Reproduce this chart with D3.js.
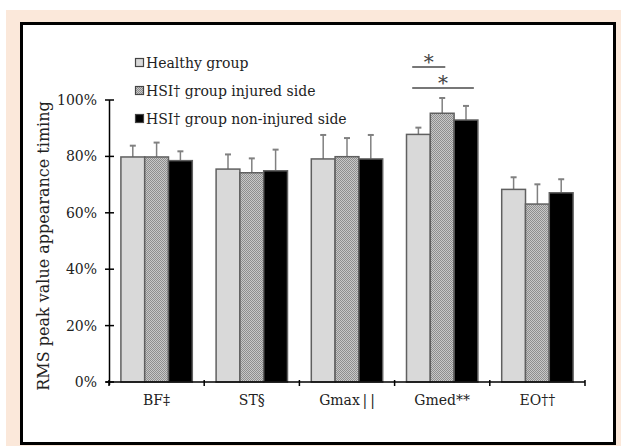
<!DOCTYPE html>
<html><head><meta charset="utf-8">
<script src="https://cdn.jsdelivr.net/npm/d3@7"></script>
<style>body{margin:0;background:#fff}svg{display:block}</style>
</head><body>
<script>
const categories = ["BF\u2021", "ST\u00a7", "Gmax\u2009|\u2009|", "Gmed**", "EO\u2020\u2020"];
const seriesNames = ["Healthy group", "HSI\u2020 group injured side", "HSI\u2020 group non-injured side"];
const healthy = [79.8, 75.5, 79.1, 87.8, 68.3];
const injured = [79.8, 74.2, 79.9, 95.3, 63.1];
const nonInjured = [78.5, 74.9, 79.1, 92.9, 67.1];
const healthySD = [4.0, 5.2, 8.5, 2.4, 4.3];
const injuredSD = [5.1, 5.1, 6.6, 5.4, 7.0];
const nonInjuredSD = [3.3, 7.5, 8.5, 5.0, 4.8];
const yTicks = [0, 20, 40, 60, 80, 100];
const yTitle = "RMS peak value appearance timing";

const W = 621, H = 446;
const svg = d3.select("body").append("svg").attr("width", W).attr("height", H);
const defs = svg.append("defs");
const pat = defs.append("pattern").attr("id", "chk").attr("width", 2).attr("height", 2).attr("patternUnits", "userSpaceOnUse");
pat.append("rect").attr("width", 2).attr("height", 2).attr("fill", "#c8c8c8");
pat.append("rect").attr("width", 1).attr("height", 1).attr("fill", "#8e8e8e");
pat.append("rect").attr("x", 1).attr("y", 1).attr("width", 1).attr("height", 1).attr("fill", "#8e8e8e");

svg.append("rect").attr("x", 6).attr("y", 10).attr("width", W - 6).attr("height", H - 10).attr("fill", "#fbe8da");
svg.append("rect").attr("x", 21.5).attr("y", 23.5).attr("width", 593).attr("height", 420).attr("fill", "#fff").attr("stroke", "#000").attr("stroke-width", 3);

const font = "DejaVu Serif";
const txt = "#222";
const x = d3.scaleBand().domain(categories).range([109, 585]).paddingInner(0.25).paddingOuter(0.125);
const xs = d3.scaleBand().domain(d3.range(3)).range([0, x.bandwidth()]);
const y = d3.scaleLinear().domain([0, 100]).range([382, 100]);

const series = [
  {vals: healthy, sd: healthySD, fill: "#d9d9d9"},
  {vals: injured, sd: injuredSD, fill: "url(#chk)"},
  {vals: nonInjured, sd: nonInjuredSD, fill: "#000"}
];

const g = svg.append("g");
series.forEach((s, i) => {
  categories.forEach((c, j) => {
    const x0 = x(c) + xs(i), bw = xs.bandwidth();
    const cx = x0 + bw / 2;
    g.append("line").attr("x1", cx).attr("x2", cx).attr("y1", y(s.vals[j])).attr("y2", y(s.vals[j] + s.sd[j]))
      .attr("stroke", "#808080").attr("stroke-width", 1.5);
    g.append("line").attr("x1", cx - 3).attr("x2", cx + 3).attr("y1", y(s.vals[j] + s.sd[j])).attr("y2", y(s.vals[j] + s.sd[j]))
      .attr("stroke", "#808080").attr("stroke-width", 2);
    g.append("rect").attr("x", x0).attr("y", y(s.vals[j])).attr("width", bw).attr("height", y(0) - y(s.vals[j]))
      .attr("fill", s.fill).attr("stroke", "#606060").attr("stroke-width", 1.5);
  });
});

// y axis
const ya = svg.append("g");
ya.append("line").attr("x1", 109.5).attr("x2", 109.5).attr("y1", y(100)).attr("y2", y(0) + 3).attr("stroke", "#000").attr("stroke-width", 1.5);
yTicks.forEach(t => {
  ya.append("line").attr("x1", 105).attr("x2", 114).attr("y1", y(t)).attr("y2", y(t)).attr("stroke", "#000").attr("stroke-width", 1.5);
  ya.append("text").attr("x", 97).attr("y", y(t)).attr("dy", "0.35em").attr("text-anchor", "end")
    .attr("font-family", font).attr("font-size", 14).attr("fill", txt).text(t + "%");
});
svg.append("text").attr("transform", `translate(49,${(y(0)+y(100))/2 + 5}) rotate(-90)`).attr("text-anchor", "middle")
  .attr("font-family", font).attr("font-size", 16).attr("fill", txt).text(yTitle);

// x axis
const xa = svg.append("g");
xa.append("line").attr("x1", 106).attr("x2", 585).attr("y1", y(0)).attr("y2", y(0)).attr("stroke", "#000").attr("stroke-width", 1.5);
const bounds = categories.map(c => x(c) - x.step() * x.paddingInner() / 2);
bounds.push(x(categories[4]) + x.bandwidth() + x.step() * x.paddingInner() / 2);
bounds.forEach(b => xa.append("line").attr("x1", b).attr("x2", b).attr("y1", y(0) - 2).attr("y2", y(0) + 4).attr("stroke", "#000").attr("stroke-width", 1.5));
categories.forEach(c => xa.append("text").attr("x", x(c) + x.bandwidth() / 2).attr("y", 405).attr("text-anchor", "middle")
  .attr("font-family", font).attr("font-size", 14).attr("fill", txt).text(c));

// legend
const legendFills = ["#d9d9d9", "url(#chk)", "#000"];
seriesNames.forEach((n, i) => {
  const ly = 63 + i * 28;
  svg.append("rect").attr("x", 135.5).attr("y", ly - 4.5).attr("width", 8).attr("height", 8).attr("fill", legendFills[i]).attr("stroke", "#444").attr("stroke-width", 1.2);
  svg.append("text").attr("x", 146).attr("y", ly).attr("dy", "0.35em").attr("font-family", font).attr("font-size", 14).attr("fill", txt).text(n);
});

// significance
const gm = categories[3], bw = xs.bandwidth();
const sig = [
  {a: 0, b: 1, yy: 67, ay: 58},
  {a: 0, b: 2, yy: 88, ay: 79}
];
sig.forEach(s => {
  const x1 = x(gm) + xs(s.a) + bw * 0.24, x2 = x(gm) + xs(s.b) + bw * (s.b === 1 ? 0.63 : 0.83);
  svg.append("line").attr("x1", x1).attr("x2", x2).attr("y1", s.yy).attr("y2", s.yy).attr("stroke", "#777").attr("stroke-width", 2);
  svg.append("text").attr("x", (x1 + x2) / 2).attr("y", s.ay + 11).attr("text-anchor", "middle").attr("font-family", font)
    .attr("font-size", 20).attr("fill", "#444").text("*");
});
</script>
</body></html>
